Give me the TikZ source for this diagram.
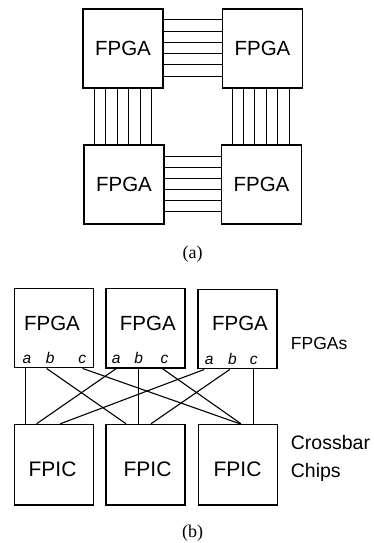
\documentclass[tikz,border=0pt]{standalone}
\usepackage{fontspec}
\setmainfont{Liberation Serif}
\newfontfamily\arial{Liberation Sans}
\begin{document}
\begin{tikzpicture}[x=1pt,y=-1pt,
  chip/.style={draw, line width=1.4pt, inner sep=0pt},
  bigchip/.style={chip, minimum width=80pt, minimum height=79pt, font=\arial\fontsize{20.5}{22}\selectfont},
  fpgabox/.style={chip, minimum width=79pt, minimum height=79.5pt},
  fpicbox/.style={chip, minimum width=79pt, minimum height=80.5pt},
  chiptext/.style={inner sep=0pt, font=\arial\fontsize{20.5}{22}\selectfont},
  fpictext/.style={inner sep=0pt, font=\arial\fontsize{21}{23}\selectfont},
  pin/.style={inner sep=0pt, anchor=base, font=\arial\itshape\fontsize{15.5}{17}\selectfont},
  side/.style={inner sep=0pt, anchor=base west, font=\arial\fontsize{19.5}{21}\selectfont},
  caption/.style={inner sep=0pt, anchor=base, font=\fontsize{18}{20}\selectfont},
  wire/.style={line width=1.1pt},
  bus/.style={line width=1pt}
]
\useasboundingbox (0,0) rectangle (374,543);

% ---------- (a) ----------
\node[bigchip] (tl) at (123,48.5) {FPGA};
\node[bigchip] (tr) at (262.5,48.5) {FPGA};
\node[bigchip] (bl) at (124,184.5) {FPGA};
\node[bigchip] (br) at (261.5,184.5) {FPGA};

\foreach \i in {0,...,5}{
  \draw[bus] ([yshift={-11.7pt-11.2pt*\i}]tl.north east) -- ([yshift={-11.7pt-11.2pt*\i}]tr.north west);
  \draw[bus] ([yshift={-11.7pt-11.15pt*\i}]bl.north east) -- ([yshift={-11.7pt-11.15pt*\i}]br.north west);
  \path ([xshift={12pt+11.45pt*\i}]tl.south west) coordinate (vl\i);
  \draw[bus] (vl\i) -- (vl\i |- bl.north);
  \path ([xshift={10.2pt+11.45pt*\i}]tr.south west) coordinate (vr\i);
  \draw[bus] (vr\i) -- (vr\i |- br.north);
}

\node[caption] (capa) at (192.5,258.5) {(a)};

% ---------- (b) ----------
\node[fpgabox] (f1) at (53.7,328) {};
\node[fpgabox] (f2) at (145.5,328.3) {};
\node[fpgabox] (f3) at (237.5,329) {};
\node[fpicbox] (c1) at (53.7,464.7) {};
\node[fpicbox] (c2) at (145.5,464.7) {};
\node[fpicbox] (c3) at (237.8,464.7) {};

\node[chiptext] (t1) at (52,323.5) {FPGA};
\node[chiptext] (t2) at (147.8,323.5) {FPGA};
\node[chiptext] (t3) at (240,323.8) {FPGA};
\node[fpictext] (u1) at (52.5,469.7) {FPIC};
\node[fpictext] (u2) at (147.5,469.7) {FPIC};
\node[fpictext] (u3) at (237.5,469.7) {FPIC};

\node[pin] (a1) at (27,363.3) {a};
\node[pin] (b1) at (50.3,363.3) {b};
\node[pin] (cc1) at (82.3,363.3) {c};
\node[pin] (a2) at (116.3,363.3) {a};
\node[pin] (b2) at (138.8,363.3) {b};
\node[pin] (cc2) at (164.5,363.3) {c};
\node[pin] (a3) at (209.3,364) {a};
\node[pin] (b3) at (232.5,364) {b};
\node[pin] (cc3) at (253.7,364) {c};

\draw[wire] ([xshift=11.8pt]f1.south west) -- ([xshift=11.8pt]c1.north west);
\draw[wire] ([xshift=33.1pt]f1.south west) -- ([xshift=20.7pt]c2.north west);
\draw[wire] ([xshift=69.1pt]f1.south west) -- ([xshift=42.2pt]c3.north west);
\draw[wire] ([xshift=10.7pt]f2.south west) -- ([xshift=23.1pt]c1.north west);
\draw[wire] ([xshift=33.3pt]f2.south west) -- ([xshift=33.3pt]c2.north west);
\draw[wire] ([xshift=57.3pt]f2.south west) -- ([xshift=43.4pt]c3.north west);
\draw[wire] ([xshift=7pt]f3.south west) -- ([xshift=46.8pt]c1.north west);
\draw[wire] ([xshift=32.5pt]f3.south west) -- ([xshift=45.7pt]c2.north west);
\draw[wire] ([xshift=56.3pt]f3.south west) -- ([xshift=56pt]c3.north west);

\node[side, font=\arial\fontsize{17.5}{19}\selectfont] (lf) at (290.7,349.3) {FPGAs};
\node[side] (lc) at (290.7,449.3) {Crossbar};
\node[side] (lch) at (290.7,477.3) {Chips};

\node[caption] (capb) at (192.5,537) {(b)};
\end{tikzpicture}
\end{document}
